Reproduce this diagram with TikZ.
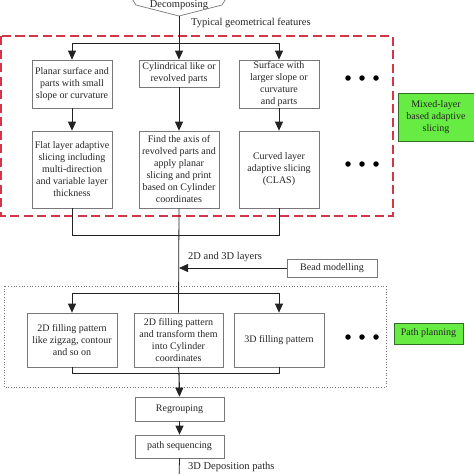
\documentclass[tikz,border=0pt]{standalone}
\usepackage{fontspec}
\setmainfont{Liberation Serif}
\usetikzlibrary{arrows.meta}
\definecolor{dashred}{RGB}{210,55,70}
\definecolor{lgreen}{RGB}{102,236,66}
\definecolor{dgreen}{RGB}{50,110,40}
\definecolor{boxgray}{RGB}{120,120,120}
\definecolor{linec}{RGB}{35,35,35}
\tikzset{
  box/.style={draw=boxgray, line width=0.7pt, fill=white, align=center, inner sep=0pt,
    font=\fontsize{10}{12}\selectfont, text=black!85},
  gbox/.style={draw=dgreen, line width=0.8pt, fill=lgreen, align=center, inner sep=0pt,
    font=\fontsize{10}{12}\selectfont, text=black!85},
  conn/.style={draw=linec, line width=0.8pt},
  arr/.style={conn, -{Triangle[length=9pt,width=8pt]}},
  lbl/.style={font=\fontsize{10.5}{12}\selectfont, text=black!85, inner sep=0pt},
  dot/.style={circle, fill=black, inner sep=0pt, minimum size=5.5pt},
}
\begin{document}
\begin{tikzpicture}[x=1pt,y=-1pt]
\useasboundingbox (0,0) rectangle (474,474);
\clip (0,0) rectangle (474,474);
\fill[white] (0,0) rectangle (474,474);

% group frames
\draw[dashred, line width=1.4pt, dash pattern=on 9pt off 4.5pt] (1,36) rectangle (393,216);
\draw[boxgray, line width=0.7pt, dotted] (4,286) rectangle (386,387);

% decomposing
\node[lbl, anchor=base] (dec) at (179,7.5) {Decomposing};
\coordinate (decb) at (179,16);
\draw[boxgray, line width=0.7pt] (131,-3) -- (136,5) -- (decb) -- (222,5) -- (227,-3);
\node[lbl, anchor=west] (typ) at (191,23) {Typical geometrical features};

% row 1
\node[box, minimum width=80pt, minimum height=48pt] (A) at (72,84) {Planar surface and\\parts with small\\slope or curvature};
\node[box, minimum width=80pt, minimum height=27pt] (B) at (179,73.5) {Cylindrical like or\\revolved parts};
\node[box, minimum width=80pt, minimum height=48pt] (C) at (279,84) {Surface with\\larger slope or\\curvature\\and parts};

% row 2
\node[box, minimum width=80pt, minimum height=77pt] (D) at (72,169.5) {Flat layer adaptive\\slicing including\\multi-direction\\and variable layer\\thickness};
\node[box, minimum width=80pt, minimum height=77pt] (E) at (179,169.5) {Find the axis of\\revolved parts and\\apply planar\\slicing and print\\based on Cylinder\\coordinates};
\node[box, minimum width=80pt, minimum height=77pt] (F) at (279,169.5) {Curved layer\\adaptive slicing\\(CLAS)};

% green labels
\node[gbox, minimum width=76pt, minimum height=48pt] (mix) at (436,117) {Mixed-layer\\based adaptive\\slicing};
\node[gbox, minimum width=69pt, minimum height=21pt] (pp) at (428.5,333.5) {Path planning};

% bead
\node[box, minimum width=90pt, minimum height=18pt] (bead) at (332,268) {Bead modelling};
\node[lbl, anchor=west] (lay) at (188,257) {2D and 3D layers};

% row 3
\node[box, minimum width=90pt, minimum height=54pt] (G) at (72,340) {2D filling pattern\\like zigzag, contour\\and so on};
\node[box, minimum width=89pt, minimum height=54pt] (H) at (178.5,340) {2D filling pattern\\and transform them\\into Cylinder\\coordinates};
\node[box, minimum width=90pt, minimum height=54pt] (I) at (279,340) {3D filling pattern};

% bottom
\node[box, minimum width=89pt, minimum height=24pt] (reg) at (179.5,409) {Regrouping};
\node[box, minimum width=89pt, minimum height=23pt] (seq) at (179.5,446.5) {path sequencing};
\node[lbl, anchor=north west] (dep) at (188,462) {3D Deposition paths};

% dots
\foreach \y/\n in {78/a,164/b,337/c}{
  \node[dot] (d1\n) at (348,\y) {};
  \node[dot] (d2\n) at (362,\y) {};
  \node[dot] (d3\n) at (376,\y) {};
}

% connectors
\coordinate (br1) at (179,43);
\draw[conn] (decb) -- (br1);
\draw[arr] (br1) -| (A.north);
\draw[arr] (br1) -- (B.north);
\draw[arr] (br1) -| (C.north);
\draw[arr] (A.south) -- (D.north);
\draw[arr] (B.south) -- (E.north);
\draw[arr] (C.south) -- (F.north);

\coordinate (mg1) at (179,235);
\coordinate (jb) at (179,268);
\coordinate (br2) at (179,293);
\draw[conn] (D.south) |- (mg1);
\draw[conn] (F.south) |- (mg1);
\draw[conn] (E.south) -- (H.north);
\draw[arr] (bead.west) -- (jb);
\draw[arr] (br2) -| (G.north);
\draw[arr] (br2) -| (I.north);

\coordinate (mg2) at (179,373);
\draw[conn] (G.south) |- (mg2);
\draw[conn] (I.south) |- (mg2);
\draw[conn] (H.south) -- (mg2);
\draw[arr, line width=1.1pt] (mg2) -- (reg.north);
\draw[arr, line width=1.1pt] (reg.south) -- (seq.north);
\coordinate (endp) at (179,480);
\draw[conn] (seq.south) -- (endp);
\end{tikzpicture}
\end{document}
